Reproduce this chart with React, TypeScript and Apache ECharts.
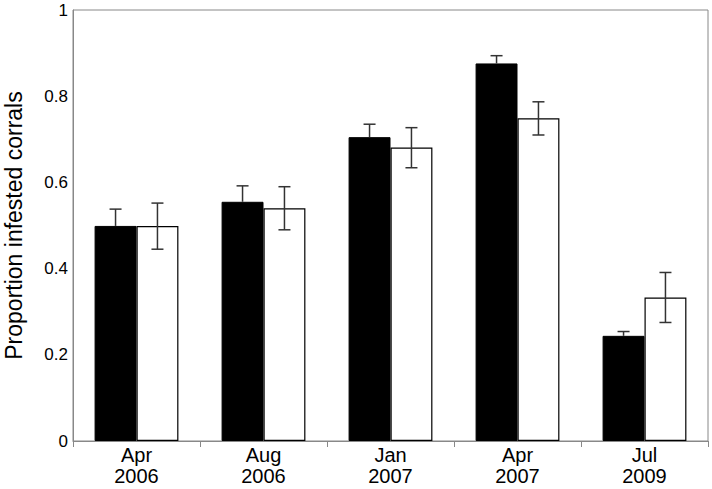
import React, { useEffect, useRef } from "react";
import * as echarts from "echarts";

const categories = ["Apr\n2006", "Aug\n2006", "Jan\n2007", "Apr\n2007", "Jul\n2009"];
const blackValues = [0.499, 0.555, 0.705, 0.876, 0.244];
const blackErrLow = [0.46, 0.518, 0.675, 0.858, 0.234];
const blackErrHigh = [0.538, 0.592, 0.735, 0.894, 0.254];
const whiteValues = [0.499, 0.54, 0.681, 0.749, 0.333];
const whiteErrLow = [0.445, 0.49, 0.634, 0.71, 0.275];
const whiteErrHigh = [0.552, 0.59, 0.727, 0.787, 0.391];
const yTicks = [0, 0.2, 0.4, 0.6, 0.8, 1];

const FONT = "'Liberation Sans', Arial, sans-serif";
const GAP = 0.34;

export default function App() {
  const ref = useRef<HTMLDivElement>(null);
  useEffect(() => {
    if (!ref.current) return;
    const chart = echarts.init(ref.current, null, { renderer: "svg" });
    const errData: number[][] = [];
    categories.forEach((_, i) => {
      errData.push([i, blackErrLow[i], blackErrHigh[i], 0, blackValues[i]]);
      errData.push([i, whiteErrLow[i], whiteErrHigh[i], 1, whiteValues[i]]);
    });
    const renderItem = (params: any, api: any) => {
      const idx = api.value(0);
      const s = api.value(3);
      const lowVal = s === 0 ? api.value(4) : api.value(1);
      const lo = api.coord([idx, lowVal]);
      const hi = api.coord([idx, api.value(2)]);
      const band = api.size([1, 0])[0];
      const bw = (band * (1 - GAP)) / 2;
      const x = lo[0] + (s === 0 ? -bw / 2 : bw / 2);
      const cap = 6;
      const style = { stroke: "#333", lineWidth: 1.5 };
      const children: any[] = [
        { type: "line", shape: { x1: x, y1: lo[1], x2: x, y2: hi[1] }, style },
        { type: "line", shape: { x1: x - cap, y1: hi[1], x2: x + cap, y2: hi[1] }, style },
      ];
      if (s !== 0) {
        children.push({ type: "line", shape: { x1: x - cap, y1: lo[1], x2: x + cap, y2: lo[1] }, style });
      }
      return { type: "group", children };
    };
    chart.setOption({
      animation: false,
      textStyle: { fontFamily: FONT },
      grid: {
        left: 73,
        right: 4,
        top: 10,
        bottom: 48,
        show: true,
        borderColor: "#888",
        borderWidth: 1,
        backgroundColor: "transparent",
        outerBoundsMode: "none",
        containLabel: false,
      },
      xAxis: {
        type: "category",
        data: categories,
        axisLine: { lineStyle: { color: "#888", width: 1 } },
        axisTick: { show: true, length: 6, lineStyle: { color: "#888" } },
        axisLabel: {
          color: "#000",
          fontSize: 20,
          lineHeight: 21,
          margin: 3,
          fontFamily: FONT,
        },
        splitLine: { show: false },
      },
      yAxis: {
        type: "value",
        min: 0,
        max: 1,
        interval: 0.2,
        name: "Proportion infested corrals",
        nameLocation: "middle",
        nameGap: 48,
        nameTextStyle: { fontSize: 23, color: "#000", fontFamily: FONT },
        axisLine: { show: true, lineStyle: { color: "#888" } },
        axisTick: { show: false },
        splitLine: { show: false },
        axisLabel: {
          color: "#000",
          fontSize: 17,
          margin: 5,
          fontFamily: FONT,
          formatter: (v: number) => {
            const m = yTicks.find((t) => Math.abs(t - v) < 1e-6);
            return m === undefined ? "" : String(m);
          },
        },
      },
      series: [
        {
          type: "bar",
          data: blackValues,
          barGap: "0%",
          barCategoryGap: GAP * 100 + "%",
          itemStyle: { color: "#000", borderColor: "#000", borderWidth: 1 },
        },
        {
          type: "bar",
          data: whiteValues,
          itemStyle: { color: "#fff", borderColor: "#000", borderWidth: 1.2 },
        },
        {
          type: "custom",
          renderItem,
          data: errData,
          encode: { x: 0, y: [1, 2] },
          z: 10,
        },
      ],
    });
    return () => chart.dispose();
  }, []);
  return <div ref={ref} style={{ width: 712, height: 489, position: "absolute", left: 0, top: 0 }} />;
}
